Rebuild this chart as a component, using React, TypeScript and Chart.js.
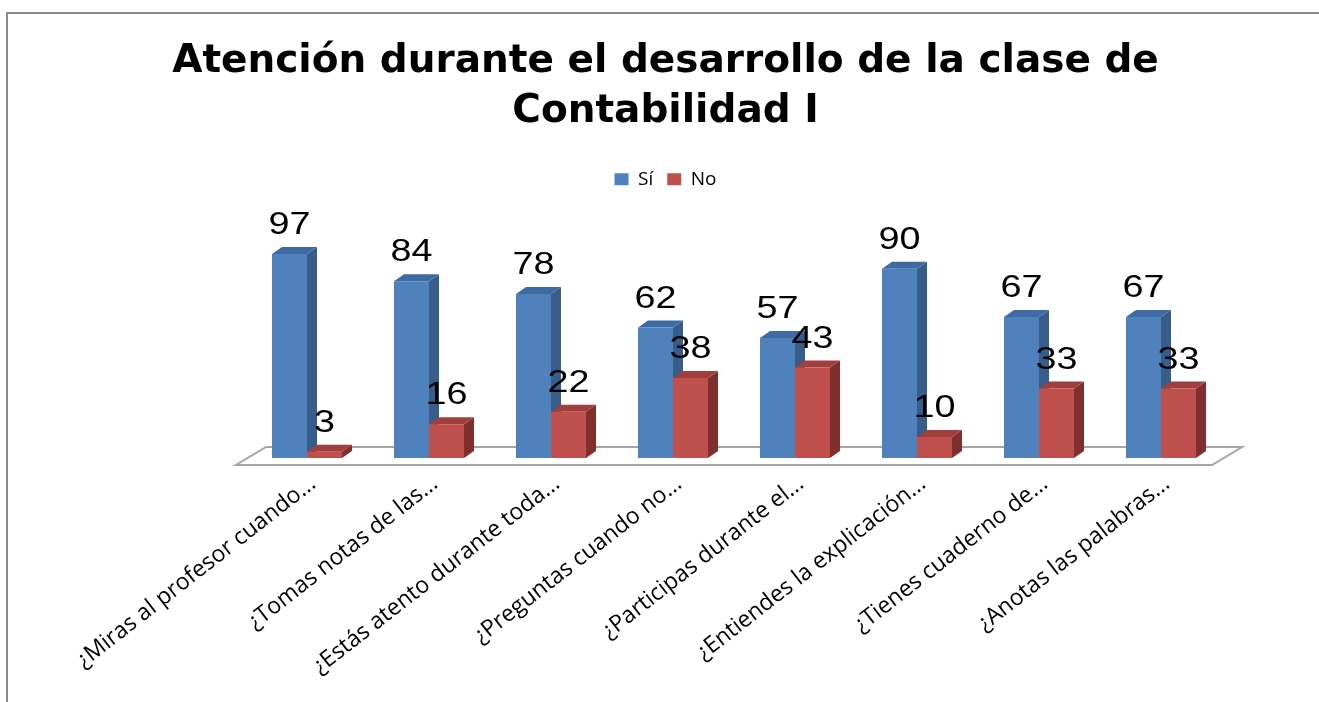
import React, { useEffect, useRef } from 'react';
import { Chart, registerables } from 'chart.js';

Chart.register(...registerables);

const TITLE_LINES = ['Atención durante el desarrollo de la clase de', 'Contabilidad I'];
const CATEGORIES = [
  '¿Miras al profesor cuando...',
  '¿Tomas notas de las...',
  '¿Estás atento durante toda...',
  '¿Preguntas cuando no...',
  '¿Participas durante el...',
  '¿Entiendes la explicación...',
  '¿Tienes cuaderno de...',
  '¿Anotas las palabras...',
];
const SERIES_NAMES = ['Sí', 'No'];
const SI_VALUES = [97, 84, 78, 62, 57, 90, 67, 67];
const NO_VALUES = [3, 16, 22, 38, 43, 10, 33, 33];

const FRONT_COLORS = ['#4F81BD', '#C0504D'];
const SIDE_COLORS = ['#385D8A', '#7F302E'];
const TOP_COLORS = ['#3D6BA2', '#A03F3C'];

const DX = 10;
const DY = 7;

const framePlugin = {
  id: 'frame',
  beforeDraw(chart: any) {
    const { ctx } = chart;
    ctx.save();
    ctx.strokeStyle = '#8C8C8C';
    ctx.lineWidth = 2;
    ctx.beginPath();
    ctx.moveTo(7, chart.height);
    ctx.lineTo(7, 13);
    ctx.lineTo(chart.width, 13);
    ctx.stroke();
    ctx.restore();
  },
};

const bar3dPlugin = {
  id: 'bar3d',
  beforeDatasetsDraw(chart: any) {
    const { ctx, chartArea } = chart;
    const y0 = chart.scales.y.getPixelForValue(0);
    const fy = y0 + 7;
    const fl = chartArea.left - 10;
    const fr = chartArea.right - 10;
    ctx.save();
    ctx.beginPath();
    ctx.moveTo(fl, fy);
    ctx.lineTo(fr, fy);
    ctx.lineTo(fr + 30, fy - 18);
    ctx.lineTo(fl + 30, fy - 18);
    ctx.closePath();
    ctx.fillStyle = '#ffffff';
    ctx.fill();
    ctx.strokeStyle = '#A5A5A5';
    ctx.lineWidth = 2;
    ctx.stroke();

    const n = chart.data.labels.length;
    for (let j = 0; j < n; j++) {
      for (let d = 0; d < chart.data.datasets.length; d++) {
        const bar: any = chart.getDatasetMeta(d).data[j];
        const x = bar.x, y = bar.y, base = bar.base, w = bar.width;
        const l = x - w / 2;
        const r = x + w / 2;
        ctx.fillStyle = SIDE_COLORS[d];
        ctx.beginPath();
        ctx.moveTo(r, y);
        ctx.lineTo(r + DX, y - DY);
        ctx.lineTo(r + DX, base - DY);
        ctx.lineTo(r, base);
        ctx.closePath();
        ctx.fill();
        ctx.fillStyle = TOP_COLORS[d];
        ctx.beginPath();
        ctx.moveTo(l, y);
        ctx.lineTo(l + DX, y - DY);
        ctx.lineTo(r + DX, y - DY);
        ctx.lineTo(r, y);
        ctx.closePath();
        ctx.fill();
      }
    }
    ctx.restore();
  },
};

const valueLabelPlugin = {
  id: 'valueLabels',
  afterDatasetsDraw(chart: any) {
    const { ctx } = chart;
    ctx.save();
    ctx.font = '32px "Liberation Sans", Arial, sans-serif';
    ctx.textAlign = 'center';
    ctx.textBaseline = 'alphabetic';
    ctx.fillStyle = '#000000';
    chart.data.datasets.forEach((ds: any, d: number) => {
      chart.getDatasetMeta(d).data.forEach((bar: any, j: number) => {
        ctx.save();
        ctx.translate(bar.x, bar.y - 20);
        ctx.scale(1.18, 1);
        ctx.fillText(String(ds.data[j]), 0, 0);
        ctx.restore();
      });
    });
    ctx.restore();
  },
};

export default function App() {
  const ref = useRef<HTMLCanvasElement | null>(null);

  useEffect(() => {
    document.body.style.margin = '0';
    const canvas = ref.current;
    if (!canvas) return;
    const chart = new Chart(canvas, {
      type: 'bar',
      data: {
        labels: CATEGORIES,
        datasets: [
          {
            label: SERIES_NAMES[0],
            data: SI_VALUES,
            backgroundColor: FRONT_COLORS[0],
            barPercentage: 1,
            categoryPercentage: 0.574,
          },
          {
            label: SERIES_NAMES[1],
            data: NO_VALUES,
            backgroundColor: FRONT_COLORS[1],
            barPercentage: 1,
            categoryPercentage: 0.574,
          },
        ],
      },
      options: {
        responsive: false,
        animation: false,
        devicePixelRatio: 1,
        layout: { padding: { left: 12, right: 0, top: 0, bottom: 0 } },
        plugins: {
          title: {
            display: true,
            text: TITLE_LINES,
            color: '#000000',
            font: { family: '"DejaVu Sans", sans-serif', size: 39, weight: 'bold', lineHeight: 1.28 },
            padding: { top: 37, bottom: 19 },
          },
          legend: {
            display: true,
            position: 'top',
            labels: {
              boxWidth: 14,
              boxHeight: 12,
              padding: 14,
              color: '#000000',
              font: { family: '"Open Sans", sans-serif', size: 19 },
            },
          },
          tooltip: { enabled: false },
        },
        scales: {
          x: {
            grid: { display: false, drawTicks: false },
            border: { display: false },
            ticks: {
              autoSkip: false,
              minRotation: 38,
              maxRotation: 38,
              padding: 12,
              labelOffset: 6,
              color: '#000000',
              font: { family: '"Open Sans", sans-serif', size: 23 },
            },
            afterFit: (s: any) => {
              s.height = 244;
            },
          },
          y: {
            min: 0,
            max: 123.2,
            grid: { display: false, drawTicks: false },
            border: { display: false },
            ticks: { display: false },
            afterFit: (s: any) => {
              s.width = 234;
            },
          },
          y2: {
            position: 'right',
            grid: { display: false, drawTicks: false },
            border: { display: false },
            ticks: { display: false },
            afterFit: (s: any) => {
              s.width = 97;
            },
          },
        },
      },
      plugins: [framePlugin, bar3dPlugin, valueLabelPlugin],
    } as any);
    return () => chart.destroy();
  }, []);

  return (
    <div style={{ width: 1319, height: 702, background: '#ffffff' }}>
      <canvas ref={ref} width={1319} height={702} style={{ display: 'block' }} />
    </div>
  );
}
